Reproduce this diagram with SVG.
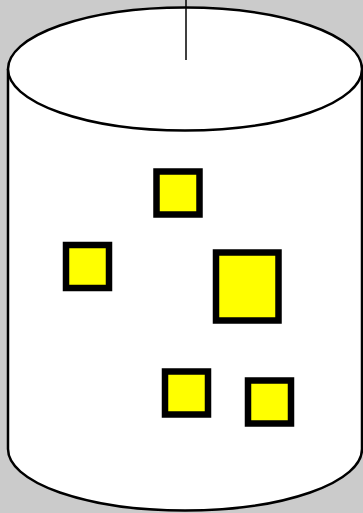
<svg xmlns="http://www.w3.org/2000/svg" width="363" height="513" viewBox="0 0 363 513">
<style>
.box{fill:#ffff00;stroke:#000;stroke-width:6.5}
.cyl{fill:#fff;stroke:#000;stroke-width:2.5}
</style>
<rect width="363" height="513" fill="#cbcbcb"/>
<g id="cylinder">
<path class="cyl" d="M8,69 L8,449 A177,61.5 0 0 0 362,449 L362,69"/>
<ellipse class="cyl" cx="185" cy="69" rx="177" ry="61.5"/>
</g>
<g id="connectors">
<line x1="186" y1="0" x2="186" y2="60" stroke="#000" stroke-width="1.5"/>
</g>
<g id="box1"><rect class="box" x="156.5" y="171.5" width="43" height="43"/></g>
<g id="box2"><rect class="box" x="66" y="245" width="43" height="43"/></g>
<g id="box3"><rect class="box" x="216" y="252.5" width="62.5" height="68"/></g>
<g id="box4"><rect class="box" x="165" y="371.5" width="43" height="43"/></g>
<g id="box5"><rect class="box" x="248" y="380.5" width="43" height="43"/></g>
</svg>
